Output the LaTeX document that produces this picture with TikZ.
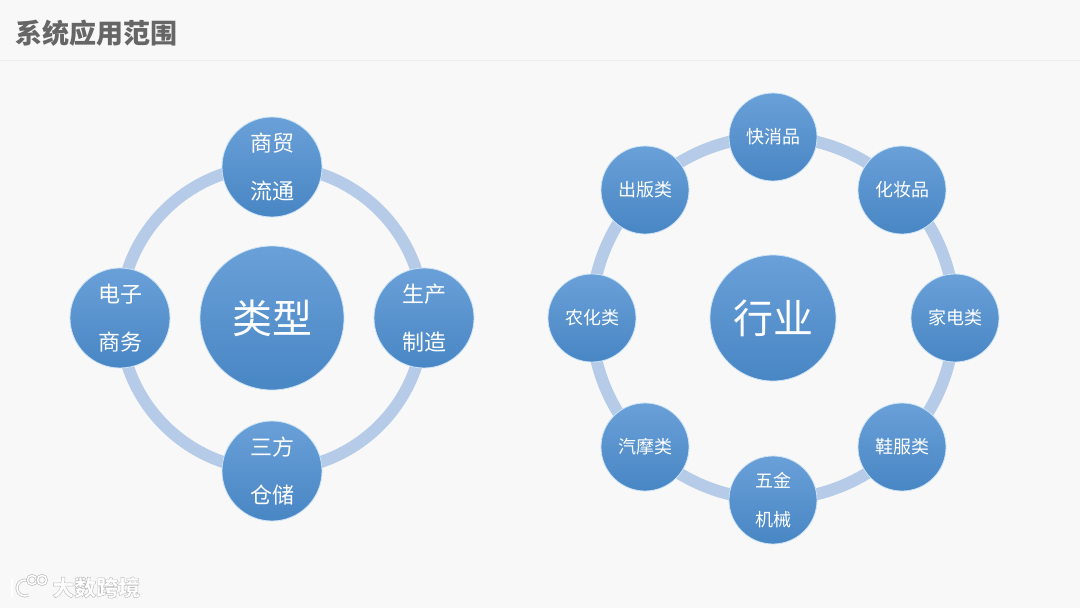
\documentclass[tikz,border=0pt]{standalone}
\usepackage{fontspec}
\setmainfont{Noto Sans CJK SC}
\usetikzlibrary{calc}

\definecolor{pagebg}{RGB}{248,248,248}
\definecolor{headline}{RGB}{238,238,238}
\definecolor{titlegray}{RGB}{102,102,102}
\definecolor{ringblue}{RGB}{181,203,232}
\definecolor{halo}{RGB}{205,228,247}
\definecolor{balltop}{RGB}{106,160,216}
\definecolor{ballbottom}{RGB}{72,134,196}
\definecolor{markgray}{RGB}{190,190,190}

\newcommand{\outlined}[1]{\special{pdf:code 2 Tr 0.45 w 0.74 G}#1\special{pdf:code 0 Tr}}

\tikzset{
  ball/.style={circle,inner sep=0pt,draw=halo,line width=0.8pt,top color=balltop,
    bottom color=ballbottom,text=white,align=center},
  hubball/.style={ball,minimum size=#1,font=\fontsize{40}{44}\selectfont},
  bigball/.style={ball,minimum size=100pt,font=\fontsize{22}{48}\selectfont},
  smallball/.style={ball,minimum size=88pt,font=\fontsize{18}{39}\selectfont},
  ringline/.style={draw=ringblue,line width=12pt},
  logoline/.style={draw=markgray,line width=0.7pt,double=white,double distance=1.5pt}
}

\begin{document}
\begin{tikzpicture}[x=1pt,y=-1pt]

  % page and header
  \fill[pagebg] (0,0) rectangle (1080,608);
  \useasboundingbox (0,0) rectangle (1080,608);
  \draw[headline,line width=1pt] (0,60.5) -- (1080,60.5);
  \node[anchor=west,inner sep=0pt,text=titlegray,font=\fontsize{27}{30}\bfseries\selectfont]
    (title) at (15.5,33.5) {系统应用范围};

  % centres of the two rings
  \coordinate (typecentre) at (272,318);
  \coordinate (tradecentre) at (773,318);

  % rings
  \draw[ringline] (typecentre) circle (152);
  \draw[ringline] (tradecentre) circle (181.5);

  % type ring
  \node[hubball=144pt] (type) at (typecentre) {类型};
  \node[bigball] (commerce) at ($(typecentre)+(0,-151)$) {商贸\\流通};
  \node[bigball] (production) at ($(typecentre)+(152,0)$) {生产\\制造};
  \node[bigball] (storage) at ($(typecentre)+(0,153)$) {三方\\仓储};
  \node[bigball] (ecommerce) at ($(typecentre)+(-152,0)$) {电子\\商务};

  % trade ring
  \node[hubball=126pt] (trade) at (tradecentre) {行业};
  \node[smallball] (fastgoods) at (773,137) {快消品};
  \node[smallball] (cosmetics) at (902,190) {化妆品};
  \node[smallball] (appliance) at (955,318) {家电类};
  \node[smallball] (shoes) at (902,447) {鞋服类};
  \node[smallball] (hardware) at (773,500) {五金\\机械};
  \node[smallball] (motor) at (645,447) {汽摩类};
  \node[smallball] (farm) at (592,318) {农化类};
  \node[smallball] (publish) at (645,190) {出版类};

  % watermark
  \draw[logoline] (12,579) -- (12,597);
  \draw[logoline] (29,581.1) arc (-60:-300:8);
  \draw[logoline] (32,580) circle (4.5);
  \draw[logoline] (42,580) circle (4.5);
  \node[anchor=west,inner sep=0pt,text=white,font=\fontsize{22}{24}\bfseries\selectfont]
    (mark) at (52,587.5) {\outlined{大数跨境}};

\end{tikzpicture}
\end{document}
